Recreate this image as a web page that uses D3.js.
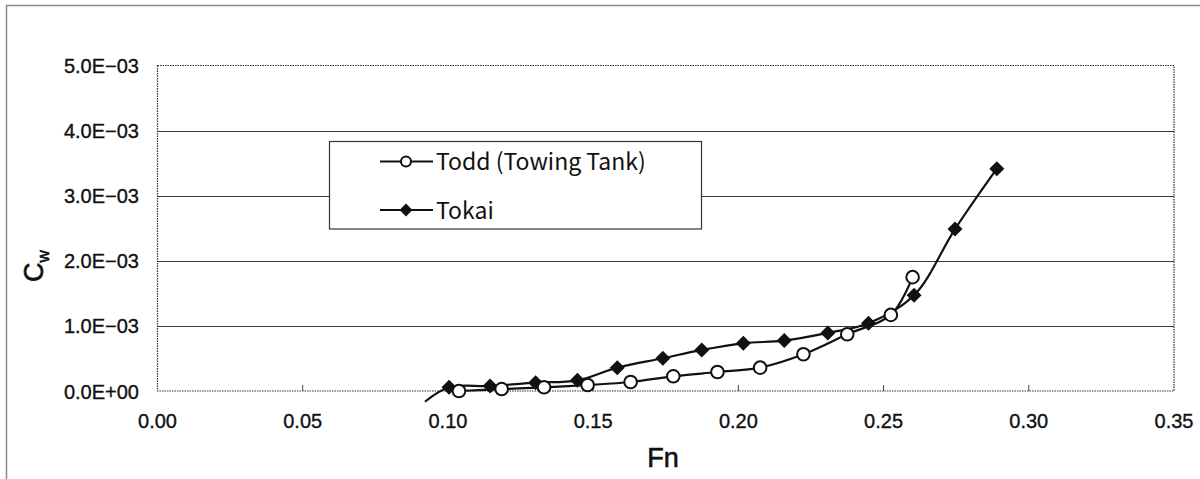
<!DOCTYPE html>
<html><head><meta charset="utf-8">
<script src="https://cdn.jsdelivr.net/npm/d3@7"></script>
<style>
body{margin:0;background:#fff;}
svg{display:block;}
</style></head>
<body>
<svg id="c" width="1200" height="479"></svg>
<script>
// ---- data ----
const toddFn = [0.1038,0.1185,0.1331,0.1481,0.1629,0.1776,0.1928,0.2075,0.2224,0.2375,0.2525,0.2600];
const toddCw = [0.000,0.030e-3,0.057e-3,0.092e-3,0.138e-3,0.226e-3,0.292e-3,0.359e-3,0.564e-3,0.872e-3,1.169e-3,1.749e-3];
const tokaiFn = [0.0921,0.1004,0.1145,0.1302,0.1446,0.1583,0.1740,0.1874,0.2017,0.2158,0.2308,0.2448,0.2605,0.2746,0.2890];
const tokaiCw = [-0.165e-3,0.057e-3,0.077e-3,0.128e-3,0.164e-3,0.359e-3,0.503e-3,0.631e-3,0.733e-3,0.774e-3,0.892e-3,1.041e-3,1.472e-3,2.487e-3,3.415e-3];
const tokaiMarkerFrom = 1; // first Tokai point lies below the axis; no marker drawn
const xTicks = [0.00,0.05,0.10,0.15,0.20,0.25,0.30,0.35];
const xTickLabels = ["0.00","0.05","0.10","0.15","0.20","0.25","0.30","0.35"];
const yTicks = [0,1e-3,2e-3,3e-3,4e-3,5e-3];
const yTickLabels = ["0.0E+00","1.0E\u221203","2.0E\u221203","3.0E\u221203","4.0E\u221203","5.0E\u221203"];
const seriesNames = ["Todd (Towing Tank)","Tokai"];

// ---- layout ----
const svg = d3.select("#c");
const F = "'Liberation Sans',Arial,sans-serif";
const L=157.5, R=1174, T=65.5, B=391;
const x = d3.scaleLinear().domain([0,0.35]).range([L,R]);
const y = d3.scaleLinear().domain([0,5e-3]).range([B,T]);

// outer frame
svg.append("path").attr("d",`M6.5,480 V5.5 H1210`).attr("fill","none").attr("stroke","#8a8a8a").attr("stroke-width",1.5);

// gridlines
const g = svg.append("g");
g.selectAll("line.grid").data(yTicks.filter(v=>v>0 && v<5e-3)).join("line")
  .attr("x1",L).attr("x2",R).attr("y1",d=>Math.round(y(d))+0.5).attr("y2",d=>Math.round(y(d))+0.5)
  .attr("stroke","#3a3a3a").attr("stroke-width",1);

// plot border dotted
svg.append("rect").attr("x",L).attr("y",T).attr("width",R-L).attr("height",B-T)
  .attr("fill","none").attr("stroke","#333").attr("stroke-width",1.2).attr("stroke-dasharray","1.5,1");

// x ticks (inside, upward)
g.selectAll("line.xt").data(xTicks.slice(1,-1)).join("line")
  .attr("x1",d=>x(d)).attr("x2",d=>x(d)).attr("y1",B).attr("y2",B-6)
  .attr("stroke","#444").attr("stroke-width",1);

// tick labels
svg.append("g").selectAll("text").data(xTicks).join("text")
  .attr("x",d=>x(d)).attr("y",428).attr("text-anchor","middle")
  .style("font-family",F).attr("font-size",20).attr("fill","#111").attr("stroke","#111").attr("stroke-width",0.35)
  .text((d,i)=>xTickLabels[i]);
svg.append("g").selectAll("text").data(yTicks).join("text")
  .attr("x",139).attr("y",d=>y(d)+7.5).attr("text-anchor","end")
  .style("font-family",F).attr("font-size",20).attr("fill","#111").attr("stroke","#111").attr("stroke-width",0.35)
  .text((d,i)=>yTickLabels[i]);

// axis titles
svg.append("text").attr("x",663).attr("y",467).attr("text-anchor","middle")
  .style("font-family",F).attr("font-size",27).attr("fill","#111").attr("stroke","#111").attr("stroke-width",0.6).text("Fn");
const yt = svg.append("text").attr("transform","translate(43,266) rotate(-90)")
  .attr("text-anchor","middle").style("font-family",F).attr("font-size",27)
  .attr("fill","#111").attr("stroke","#111").attr("stroke-width",0.6);
yt.append("tspan").text("C");
yt.append("tspan").attr("font-size",17).attr("dy",6).text("w");

// series
const line = d3.line().x(d=>x(d[0])).y(d=>y(d[1])).curve(d3.curveCatmullRom.alpha(0.5));
const tokai = tokaiFn.map((f,i)=>[f,tokaiCw[i]]);
const todd = toddFn.map((f,i)=>[f,toddCw[i]]);
const diamond = s => `M0,${-s}L${s},0L0,${s}L${-s},0Z`;

svg.append("path").attr("d",line(tokai)).attr("fill","none").attr("stroke","#111").attr("stroke-width",2.2);
svg.append("g").selectAll("path").data(tokai.slice(tokaiMarkerFrom)).join("path")
  .attr("d",diamond(7.5)).attr("transform",d=>`translate(${x(d[0])},${y(d[1])})`)
  .attr("fill","#111");

svg.append("path").attr("d",line(todd)).attr("fill","none").attr("stroke","#111").attr("stroke-width",2.2);
svg.append("g").selectAll("circle").data(todd).join("circle")
  .attr("cx",d=>x(d[0])).attr("cy",d=>y(d[1])).attr("r",6.3)
  .attr("fill","#fff").attr("stroke","#111").attr("stroke-width",2);

// legend
const lg = svg.append("g");
lg.append("rect").attr("x",329.5).attr("y",141.5).attr("width",372).attr("height",87.5)
  .attr("fill","#fff").attr("stroke","#333").attr("stroke-width",1.2);
const ly = [161.5,210];
lg.selectAll("line").data(ly).join("line").attr("x1",380).attr("x2",433)
  .attr("y1",d=>d).attr("y2",d=>d).attr("stroke","#111").attr("stroke-width",2.2);
lg.append("circle").attr("cx",406).attr("cy",ly[0]).attr("r",5).attr("fill","#fff").attr("stroke","#111").attr("stroke-width",2);
lg.append("path").attr("d",diamond(6.5)).attr("transform",`translate(406,${ly[1]})`).attr("fill","#111");
lg.selectAll("text").data(seriesNames).join("text").attr("x",436).attr("y",(d,i)=>ly[i]+8.5)
  .style("font-family","'Noto Sans CJK JP','Noto Sans',sans-serif").attr("font-size",23).attr("fill","#111")
  .text(d=>d);
</script>
</body></html>
